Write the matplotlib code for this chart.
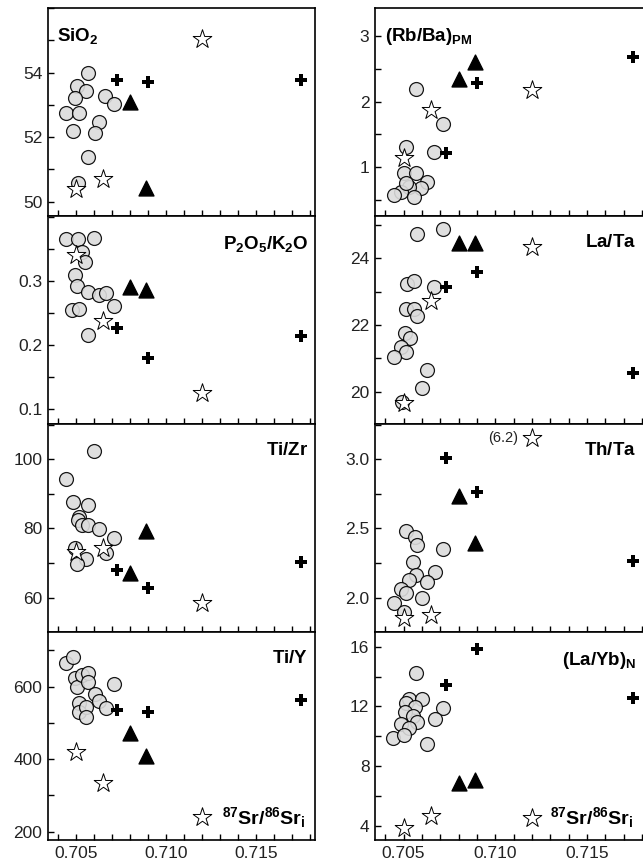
import matplotlib
matplotlib.use("Agg")
import matplotlib.pyplot as plt
from matplotlib.ticker import MultipleLocator, FixedLocator, FormatStrFormatter

plt.rcParams['font.family'] = ['Liberation Sans', 'DejaVu Sans']
plt.rcParams['mathtext.fontset'] = 'custom'
plt.rcParams['mathtext.rm'] = 'Liberation Sans'
plt.rcParams['mathtext.bf'] = 'Liberation Sans:bold'

# shared x (87Sr/86Sr i) for the small groups
star_x = [0.7050, 0.7065, 0.7120]
cross_x = [0.7073, 0.7090, 0.7175]
tri_x = [0.7080, 0.7089]

# ---- SiO2
sio2_cx = [0.70569, 0.70507, 0.70554, 0.70496, 0.70663, 0.70711, 0.70446, 0.70517, 0.70628, 0.70485, 0.70604, 0.70569, 0.70509]
sio2_cy = [54.0, 53.59, 53.43, 53.2, 53.29, 53.02, 52.74, 52.74, 52.46, 52.2, 52.14, 51.38, 50.59]
sio2_star = [50.4, 50.7, 55.05]
sio2_cross = [53.77, 53.72, 53.77]
sio2_tri = [53.10, 50.43]

# ---- P2O5/K2O
pk_cx = [0.70446, 0.70513, 0.70602, 0.70531, 0.7055, 0.70496, 0.70504, 0.70569, 0.70628, 0.70667, 0.70713, 0.70476, 0.70517, 0.70565]
pk_cy = [0.365, 0.366, 0.368, 0.346, 0.329, 0.309, 0.292, 0.283, 0.278, 0.281, 0.261, 0.255, 0.256, 0.216]
pk_star = [0.341, 0.2375, 0.1245]
pk_cross = [0.226, 0.179, 0.2146]
pk_tri = [0.291, 0.286]

# ---- Ti/Zr
tizr_cx = [0.70602, 0.70446, 0.70485, 0.70569, 0.70515, 0.70509, 0.70531, 0.70569, 0.70628, 0.70713, 0.70494, 0.70667, 0.70554, 0.70504]
tizr_cy = [102.4, 94.2, 87.6, 86.8, 83.4, 82.5, 81.0, 81.0, 79.8, 77.2, 74.5, 72.8, 71.1, 69.7]
tizr_star = [73.3, 74.3, 58.4]
tizr_cross = [68.0, 62.7, 70.4]
tizr_tri = [67.1, 79.3]

# ---- Ti/Y
tiy_cx = [0.70446, 0.70485, 0.70494, 0.70507, 0.70531, 0.70569, 0.70569, 0.70713, 0.70604, 0.70628, 0.70667, 0.70515, 0.70519, 0.70554, 0.70554]
tiy_cy = [666, 683, 623, 600, 632, 639, 614, 608, 579, 561, 540, 554, 531, 543, 517]
tiy_star = [421, 335, 241]
tiy_cross = [535.7, 529.4, 563.3]
tiy_tri = [471.4, 408.8]

# ---- (Rb/Ba)PM
rbba_cx = [0.70569, 0.70717, 0.70513, 0.70667, 0.70504, 0.70569, 0.7063, 0.70596, 0.70531, 0.70485, 0.70448, 0.70556, 0.70513]
rbba_cy = [2.192, 1.66, 1.314, 1.228, 0.909, 0.909, 0.781, 0.68, 0.705, 0.629, 0.578, 0.552, 0.756]
rbba_star = [1.14, 1.87, 2.17]
rbba_cross = [1.222, 2.289, 2.684]
rbba_tri = [2.345, 2.608]

# ---- La/Ta
lata_cx = [0.70572, 0.70717, 0.70519, 0.70559, 0.70667, 0.70513, 0.70556, 0.70572, 0.70509, 0.70535, 0.70485, 0.70513, 0.70448, 0.7063, 0.706, 0.70494]
lata_cy = [24.73, 24.87, 23.23, 23.32, 23.13, 22.48, 22.48, 22.27, 21.75, 21.6, 21.35, 21.2, 21.05, 20.65, 20.1, 19.68]
lata_star = [19.67, 22.72, 24.33]
lata_cross = [23.15, 23.6, 20.57]
lata_tri = [24.45, 24.45]

# ---- Th/Ta (star at 0.712 is off-scale: 6.2, drawn at the top)
thta_cx = [0.70513, 0.70563, 0.70572, 0.70554, 0.70717, 0.7067, 0.70569, 0.70531, 0.7063, 0.70485, 0.70513, 0.706, 0.70448, 0.70504]
thta_cy = [2.485, 2.44, 2.38, 2.26, 2.352, 2.188, 2.164, 2.128, 2.116, 2.06, 2.032, 2.0, 1.96, 1.9]
thta_star = [1.855, 1.875, 3.153]
thta_cross = [3.012, 2.762, 2.268]
thta_tri = [2.735, 2.393]

# ---- (La/Yb)N
layb_cx = [0.70569, 0.70531, 0.706, 0.70513, 0.7056, 0.70717, 0.70507, 0.7055, 0.7067, 0.70572, 0.70485, 0.70531, 0.70444, 0.705, 0.7063]
layb_cy = [14.25, 12.47, 12.47, 12.2, 11.94, 11.87, 11.64, 11.35, 11.13, 10.97, 10.8, 10.57, 9.86, 10.08, 9.48]
layb_star = [3.83, 4.65, 4.49]
layb_cross = [13.43, 15.82, 12.54]
layb_tri = [6.88, 7.06]

# y tick values shown on each panel
sio2_ticks = [50, 52, 54]
pk_ticks = [0.1, 0.2, 0.3]
tizr_ticks = [60, 80, 100]
tiy_ticks = [200, 400, 600]
rbba_ticks = [1, 2, 3]
lata_ticks = [20, 22, 24]
thta_ticks = [2.0, 2.5, 3.0]
layb_ticks = [4, 8, 12, 16]

XLIM = (0.70344, 0.71828)
W, H = 643, 865

fig = plt.figure(figsize=(W / 100, H / 100), dpi=100)

panels = [
    (0, 0, r'$\mathbf{SiO_2}$', sio2_cx, sio2_cy, sio2_star, sio2_cross, sio2_tri, (49.56, 56.0), sio2_ticks, 1, '%d', 'tl'),
    (0, 1, r'$\mathbf{P_2O_5/K_2O}$', pk_cx, pk_cy, pk_star, pk_cross, pk_tri, (0.0766, 0.4016), pk_ticks, 0.05, '%.1f', 'tr'),
    (0, 2, r'$\mathbf{Ti/Zr}$', tizr_cx, tizr_cy, tizr_star, tizr_cross, tizr_tri, (50.08, 110.2), tizr_ticks, 10, '%d', 'tr'),
    (0, 3, r'$\mathbf{Ti/Y}$', tiy_cx, tiy_cy, tiy_star, tiy_cross, tiy_tri, (177, 750.9), tiy_ticks, 100, '%d', 'tr'),
    (1, 0, r'$\mathbf{(Rb/Ba)_{PM}}$', rbba_cx, rbba_cy, rbba_star, rbba_cross, rbba_tri, (0.258, 3.426), rbba_ticks, 0.5, '%d', 'tl'),
    (1, 1, r'$\mathbf{La/Ta}$', lata_cx, lata_cy, lata_star, lata_cross, lata_tri, (19.03, 25.27), lata_ticks, 1, '%d', 'tr'),
    (1, 2, r'$\mathbf{Th/Ta}$', thta_cx, thta_cy, thta_star, thta_cross, thta_tri, (1.752, 3.255), thta_ticks, 0.25, '%.1f', 'tr'),
    (1, 3, r'$\mathbf{(La/Yb)_N}$', layb_cx, layb_cy, layb_star, layb_cross, layb_tri, (3.04, 16.99), layb_ticks, 2, '%d', 'tr'),
]

col_left = [48, 375]
col_width = [267, 272]
row_top = [8, 216, 424, 632]
row_h = 208

for col, row, label, cx, cy, st, cr, tr, ylim, yticks, minor, fmt, pos in panels:
    left = col_left[col] / W
    bottom = 1 - (row_top[row] + row_h) / H
    ax = fig.add_axes([left, bottom, col_width[col] / W, row_h / H])

    ax.scatter(cx, cy, s=100, facecolor='#dcdcdc', edgecolor='black', linewidth=0.9, alpha=0.9, zorder=2)
    ax.scatter(star_x, st, s=200, marker='*', facecolor='white', edgecolor='black', linewidth=0.7, zorder=3)
    ax.scatter(tri_x, tr, s=115, marker='^', color='black', zorder=4)
    ax.scatter(cross_x, cr, s=75, marker='P', color='black', linewidth=0, zorder=4)

    ax.set_xlim(*XLIM)
    ax.set_ylim(*ylim)
    ax.xaxis.set_major_locator(MultipleLocator(0.005))
    ax.xaxis.set_minor_locator(MultipleLocator(0.001))
    ax.yaxis.set_major_locator(FixedLocator(yticks))
    ax.yaxis.set_minor_locator(MultipleLocator(minor))
    ax.yaxis.set_major_formatter(FormatStrFormatter(fmt))
    ax.xaxis.set_major_formatter(FormatStrFormatter('%.3f'))

    ax.tick_params(which='both', direction='in', length=4, width=1, labelsize=12.5,
                   labelcolor='#222222', pad=4, top=False, right=False)
    if row != 3:
        ax.tick_params(axis='x', labelbottom=False)
    for sp in ax.spines.values():
        sp.set_linewidth(1.2)
    if col == 1:
        ax.spines['right'].set_visible(False)

    if pos == 'tl':
        ax.text(0.035, 0.915, label, transform=ax.transAxes, ha='left', va='top', fontsize=13.5)
    else:
        ax.text(0.975 if col == 0 else 0.96, 0.915, label, transform=ax.transAxes,
                ha='right', va='top', fontsize=13.5)

    if row == 3:
        ax.text(0.65 if col == 0 else 0.645, 0.05, r'$\mathbf{^{87}Sr/^{86}Sr_i}$',
                transform=ax.transAxes, ha='left', va='bottom', fontsize=14)
    if col == 1 and row == 2:
        ax.text(0.71124, st[2], '(6.2)', ha='right', va='center', fontsize=10.5, color='#222222')

fig.savefig('out.png', dpi=100)
